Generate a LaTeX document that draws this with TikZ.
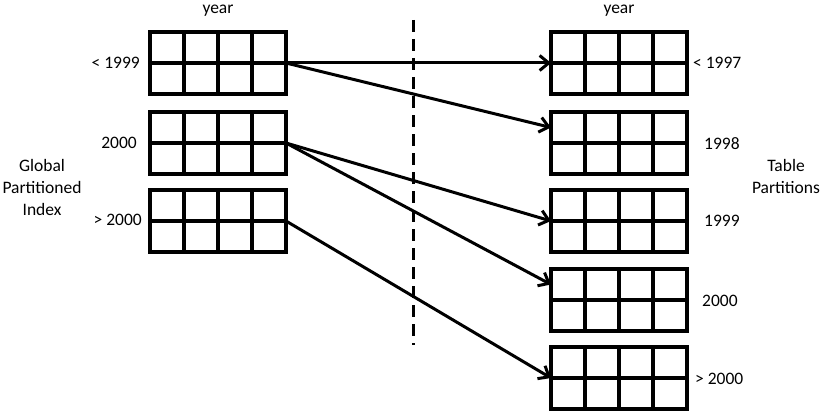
\documentclass[tikz,border=0pt]{standalone}
\usepackage{fontspec}
\setmainfont{Carlito}
\usetikzlibrary{arrows.meta,calc}
\begin{document}
\begin{tikzpicture}[x=1pt,y=-1pt,
  gridbox/.style={draw, line width=3.5pt, minimum width=136pt, minimum height=62pt, inner sep=0pt, outer sep=0pt,
    path picture={
      \foreach \f in {0.25,0.5,0.75}
        \draw[line width=3.5pt] ($(path picture bounding box.north west)!\f!(path picture bounding box.north east)$) -- ($(path picture bounding box.south west)!\f!(path picture bounding box.south east)$);
      \draw[line width=3.5pt] ($(path picture bounding box.north west)!0.5!(path picture bounding box.south west)$) -- ($(path picture bounding box.north east)!0.5!(path picture bounding box.south east)$);
    }},
  lbl/.style={font=\fontsize{17.5}{21}\selectfont, inner sep=0pt},
  conn/.style={line width=3pt, -{Straight Barb[length=9pt,width=15pt,line width=3pt]}},
  divider/.style={line width=3pt, dash pattern=on 12pt off 7pt}
]
\useasboundingbox (0,0) rectangle (825,412);
% left grids
\node[gridbox] (L1) at (218,63) {};
\node[gridbox] (L2) at (218,143) {};
\node[gridbox] (L3) at (218,221) {};
% right grids
\node[gridbox] (R1) at (619,63) {};
\node[gridbox] (R2) at (619,143) {};
\node[gridbox] (R3) at (619,221) {};
\node[gridbox] (R4) at (619,300) {};
\node[gridbox] (R5) at (619,378) {};
% labels
\node[lbl] (yl) at (218,11) {year};
\node[lbl] (yr) at (619,11) {year};
\node[lbl, anchor=east] (l1) at (140,63) {< 1999};
\node[lbl, anchor=east] (l2) at (137,143) {2000};
\node[lbl, anchor=east] (l3) at (142,220) {> 2000};
\node[lbl, align=center] (gpi) at (42,187) {Global\\[1pt]Partitioned\\[1pt]Index};
\node[lbl, anchor=west] (r1) at (693,63) {< 1997};
\node[lbl, anchor=west] (r2) at (704,144) {1998};
\node[lbl, anchor=west] (r3) at (704,221) {1999};
\node[lbl, anchor=west] (r4) at (702,301) {2000};
\node[lbl, anchor=west] (r5) at (695,379) {> 2000};
\node[lbl, align=center] (tp) at (786,176) {Table\\[1pt]Partitions};
% divider
\coordinate (dtop) at (413,20);
\coordinate (dbot) at (413,345);
\draw[divider] (dtop) -- (dbot);
% connectors
\draw[conn] (L1.east) -- (R1.west);
\draw[conn] (L1.east) -- ($(R2.north west)!0.5!(R2.west)$);
\draw[conn] (L2.east) -- (R3.west);
\draw[conn] (L2.east) -- ($(R4.north west)!0.5!(R4.west)$);
\draw[conn] (L3.east) -- (R5.west);
\end{tikzpicture}
\end{document}
